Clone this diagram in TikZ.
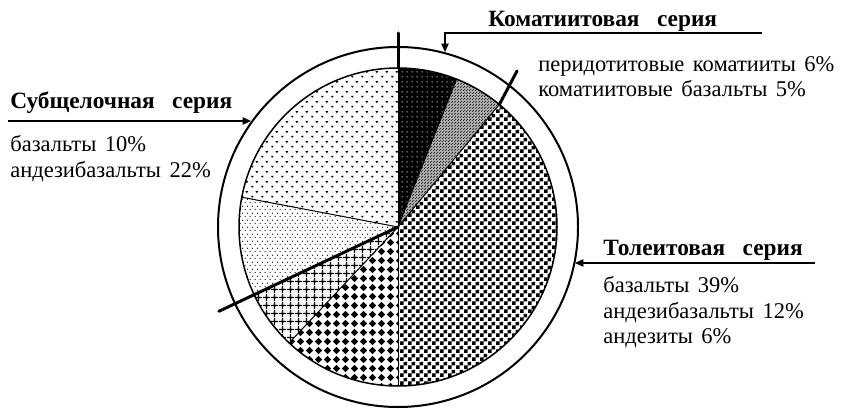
\documentclass[tikz,border=0pt]{standalone}
\usepackage{fontspec}
\setmainfont[WordSpace=1.5]{Liberation Serif}
\newfontfamily\seriesfont[WordSpace=3]{Liberation Serif}
\usetikzlibrary{calc,patterns,arrows.meta}

% patterns of the sectors
\pgfdeclarepatternformonly{whitedots}{\pgfpointorigin}{\pgfqpoint{3pt}{3pt}}{\pgfqpoint{3pt}{3pt}}{\pgfpathcircle{\pgfqpoint{1.5pt}{1.5pt}}{0.45pt}\pgfusepath{fill}}
\pgfdeclarepatternformonly{finechecks}{\pgfpointorigin}{\pgfqpoint{1.5pt}{1.5pt}}{\pgfqpoint{1.5pt}{1.5pt}}{\pgfpathrectangle{\pgfpointorigin}{\pgfqpoint{0.75pt}{0.75pt}}\pgfpathrectangle{\pgfqpoint{0.75pt}{0.75pt}}{\pgfqpoint{0.75pt}{0.75pt}}\pgfusepath{fill}}
\pgfdeclarepatternformonly{bigchecks}{\pgfpointorigin}{\pgfqpoint{4.8pt}{4.8pt}}{\pgfqpoint{4.8pt}{4.8pt}}{\pgfpathrectangle{\pgfpointorigin}{\pgfqpoint{2.4pt}{2.4pt}}\pgfpathrectangle{\pgfqpoint{2.4pt}{2.4pt}}{\pgfqpoint{2.4pt}{2.4pt}}\pgfusepath{fill}}
\pgfdeclarepatternformonly{diamonds}{\pgfpointorigin}{\pgfqpoint{5.4pt}{5.4pt}}{\pgfqpoint{5.4pt}{5.4pt}}{\pgfpathmoveto{\pgfqpoint{2.7pt}{0.5pt}}\pgfpathlineto{\pgfqpoint{4.9pt}{2.7pt}}\pgfpathlineto{\pgfqpoint{2.7pt}{4.9pt}}\pgfpathlineto{\pgfqpoint{0.5pt}{2.7pt}}\pgfpathclose\pgfusepath{fill}}
\pgfdeclarepatternformonly{gridlines}{\pgfpointorigin}{\pgfqpoint{4.5pt}{4.5pt}}{\pgfqpoint{4.5pt}{4.5pt}}{\pgfsetlinewidth{0.8pt}\pgfpathmoveto{\pgfqpoint{2.25pt}{0pt}}\pgfpathlineto{\pgfqpoint{2.25pt}{4.5pt}}\pgfpathmoveto{\pgfqpoint{0pt}{2.25pt}}\pgfpathlineto{\pgfqpoint{4.5pt}{2.25pt}}\pgfusepath{stroke}}
\pgfdeclarepatternformonly{smalldots}{\pgfpointorigin}{\pgfqpoint{3.2pt}{4pt}}{\pgfqpoint{3.2pt}{4pt}}{\pgfpathcircle{\pgfqpoint{0.8pt}{1pt}}{0.4pt}\pgfpathcircle{\pgfqpoint{2.4pt}{3pt}}{0.4pt}\pgfusepath{fill}}
\pgfdeclarepatternformonly{ticks}{\pgfpointorigin}{\pgfqpoint{6pt}{6pt}}{\pgfqpoint{6pt}{6pt}}{\pgfpathmoveto{\pgfqpoint{0.6pt}{2.1pt}}\pgfpathlineto{\pgfqpoint{2.4pt}{2.1pt}}\pgfpathlineto{\pgfqpoint{1.5pt}{0.8pt}}\pgfpathclose\pgfpathmoveto{\pgfqpoint{3.6pt}{5.1pt}}\pgfpathlineto{\pgfqpoint{5.4pt}{5.1pt}}\pgfpathlineto{\pgfqpoint{4.5pt}{3.8pt}}\pgfpathclose\pgfusepath{fill}}

\def\pieslice[#1](#2:#3){\path[#1] (pc) -- ++(#2:159) arc (#2:#3:159) -- cycle;}

\begin{document}
\begin{tikzpicture}[x=0.6pt, y=0.6pt,
    every node/.style={inner sep=0, anchor=base west, font=\fontsize{13.5}{16}\selectfont},
    series/.style={font=\fontsize{14}{16}\selectfont\seriesfont\bfseries},
    pointer/.style={line width=0.8pt, -{Triangle[length=5pt, width=4.4pt]}},
    divider/.style={line width=1.8pt, line cap=round}]
		%%%%% START %%%%%
		\useasboundingbox (0, 0) rectangle (841, 408);
		\coordinate (pc) at (398, 181);
		
		% sectors, clockwise from the top
		\pieslice[fill=black](90:68.4)
		\pieslice[pattern=whitedots, pattern color=white](90:68.4)
		\pieslice[fill=black!30](68.4:50.4)
		\pieslice[pattern=finechecks, pattern color=black!80](68.4:50.4)
		\pieslice[pattern=bigchecks](50.4:-90)
		\pieslice[pattern=diamonds](-90:-133.2)
		\pieslice[pattern=gridlines](-133.2:-154.8)
		\pieslice[pattern=smalldots](-154.8:-190.8)
		\pieslice[pattern=ticks](-190.8:-270)
		
		\foreach \a in {90, 68.4, 50.4, -90, -133.2, -154.8, -190.8}
			\draw[line width=0.6pt] (pc) -- ++(\a:159);
		\draw[line width=0.9pt] (pc) circle (159);
		\draw[line width=1.2pt] (pc) circle (180);
		
		% series boundaries
		\draw[divider] ($(pc)+(90:159)$) -- (398, 375);
		\draw[divider] ($(pc)+(50.4:159)$) -- (517, 337);
		\draw[divider] (pc) -- ($(pc)+(205.2:198)$);
		
		% komatiite series
		\node[series] (komhead) at (488, 381) {Коматиитовая серия};
		\node (komone) at (538, 336) {перидотитовые коматииты 6\%};
		\node (komtwo) at (538, 311) {коматиитовые базальты 5\%};
		\draw[pointer] (762, 375) -- (445, 375) -- (445, 356);
		
		% subalkaline series
		\node[series] (subhead) at (10, 299) {Субщелочная серия};
		\node (subone) at (10, 257) {базальты 10\%};
		\node (subtwo) at (10, 231) {андезибазальты 22\%};
		\draw[pointer] (8, 287) -- (251, 287);
		
		% tholeiite series
		\node[series] (tolhead) at (603, 153) {Толеитовая серия};
		\node (tolone) at (603, 116) {базальты 39\%};
		\node (toltwo) at (603, 90) {андезибазальты 12\%};
		\node (tolthree) at (603, 65) {андезиты 6\%};
		\draw[pointer] (815, 145) -- (575, 145);
		%%%%% END %%%%%
\end{tikzpicture}
\end{document}
